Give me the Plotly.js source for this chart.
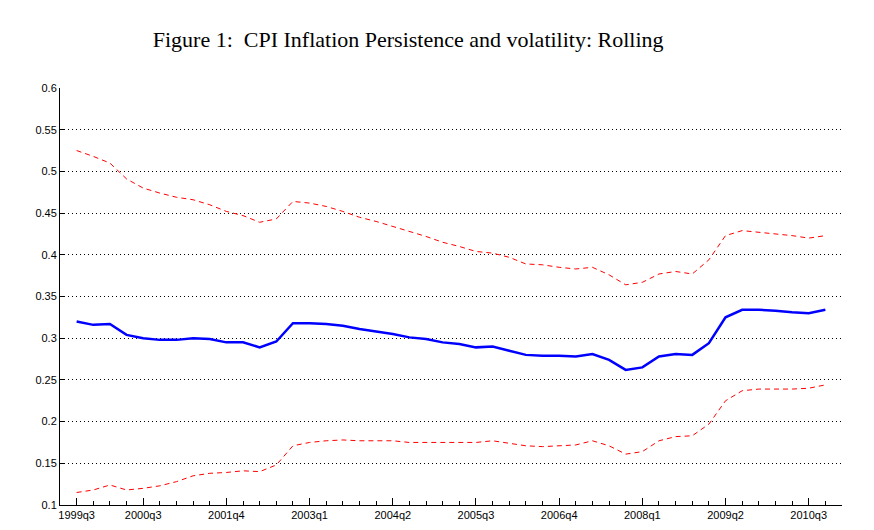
<!DOCTYPE html>
<html>
<head>
<meta charset="utf-8">
<script src="https://cdn.plot.ly/plotly-3.0.1.min.js"></script>
<style>html,body{margin:0;padding:0;background:#fff;}#chart{width:874px;height:530px;}</style>
</head>
<body>
<div id="chart"></div>
<script>
// quarters index: 0 = 1999q3 ... 45 = 2010q4
const quarterIndex = [0,1,2,3,4,5,6,7,8,9,10,11,12,13,14,15,16,17,18,19,20,21,22,23,24,25,26,27,28,29,30,31,32,33,34,35,36,37,38,39,40,41,42,43,44,45];
const persistence = [0.320,0.316,0.317,0.304,0.300,0.298,0.298,0.300,0.299,0.295,0.295,0.289,0.296,0.318,0.318,0.317,0.315,0.311,0.308,0.305,0.301,0.299,0.295,0.293,0.289,0.290,0.285,0.280,0.279,0.279,0.278,0.281,0.274,0.262,0.265,0.278,0.281,0.280,0.294,0.325,0.334,0.334,0.333,0.331,0.330,0.334];
const upperBand = [0.525,0.518,0.510,0.491,0.480,0.474,0.469,0.466,0.460,0.452,0.447,0.439,0.443,0.464,0.462,0.458,0.452,0.445,0.440,0.434,0.428,0.422,0.415,0.410,0.404,0.402,0.397,0.389,0.388,0.385,0.383,0.385,0.376,0.364,0.367,0.377,0.380,0.377,0.394,0.423,0.429,0.427,0.425,0.423,0.420,0.423];
const lowerBand = [0.115,0.118,0.124,0.118,0.120,0.123,0.128,0.135,0.138,0.139,0.141,0.140,0.148,0.171,0.175,0.177,0.178,0.177,0.177,0.177,0.175,0.175,0.175,0.175,0.175,0.177,0.174,0.171,0.170,0.171,0.172,0.177,0.171,0.161,0.164,0.177,0.182,0.183,0.197,0.225,0.237,0.239,0.239,0.239,0.240,0.244];
const xTickVals = [0,4,9,14,19,24,29,34,39,44];
const xTickText = ['1999q3','2000q3','2001q4','2003q1','2004q2','2005q3','2006q4','2008q1','2009q2','2010q3'];
const yTickVals = [0.1,0.15,0.2,0.25,0.3,0.35,0.4,0.45,0.5,0.55,0.6];
const yTickText = ['0.1','0.15','0.2','0.25','0.3','0.35','0.4','0.45','0.5','0.55','0.6'];

const traces = [
  {x: quarterIndex, y: upperBand, mode:'lines', line:{color:'rgb(255,0,0)', width:1, dash:'5px,4px'}, hoverinfo:'skip'},
  {x: quarterIndex, y: lowerBand, mode:'lines', line:{color:'rgb(255,0,0)', width:1, dash:'5px,4px'}, hoverinfo:'skip'},
  {x: quarterIndex, y: persistence, mode:'lines', line:{color:'rgb(0,0,255)', width:2.5}, hoverinfo:'skip'}
];

const layout = {
  width: 874, height: 530,
  margin: {l:60, r:32, t:88, b:25},
  paper_bgcolor:'#fff', plot_bgcolor:'#fff',
  showlegend:false,
  font: {family:'"Liberation Sans", Arial, sans-serif', size:11, color:'#000'},
  title: {text:'Figure 1:  CPI Inflation Persistence and volatility: Rolling',
          font:{family:'"Liberation Serif", "DejaVu Serif", serif', size:22, color:'#000'},
          x: 0.467, xanchor:'center', xref:'container', y: 0.925, yanchor:'middle'},
  xaxis: {range:[-1,46], tickmode:'array', tickvals:xTickVals, ticktext:xTickText,
          ticks:'inside', ticklen:7, tickwidth:1, tickcolor:'#000',
          minor:{tickmode:'linear', tick0:0, dtick:1, ticks:'inside', ticklen:4, tickcolor:'#000', showgrid:false},
          showgrid:false, zeroline:false, showline:true, linecolor:'#000', linewidth:1,
          tickfont:{size:11, color:'#000'}, fixedrange:true},
  yaxis: {range:[0.1,0.6], tickmode:'array', tickvals:yTickVals, ticktext:yTickText,
          ticks:'inside', ticklen:5, tickwidth:1, tickcolor:'#000',
          showgrid:true, gridcolor:'#000', gridwidth:1, griddash:'1px,3px',
          zeroline:false, showline:true, linecolor:'#000', linewidth:1,
          tickfont:{size:11, color:'#000'}, fixedrange:true}
};

Plotly.newPlot('chart', traces, layout, {staticPlot:true, displayModeBar:false});
</script>
</body>
</html>
